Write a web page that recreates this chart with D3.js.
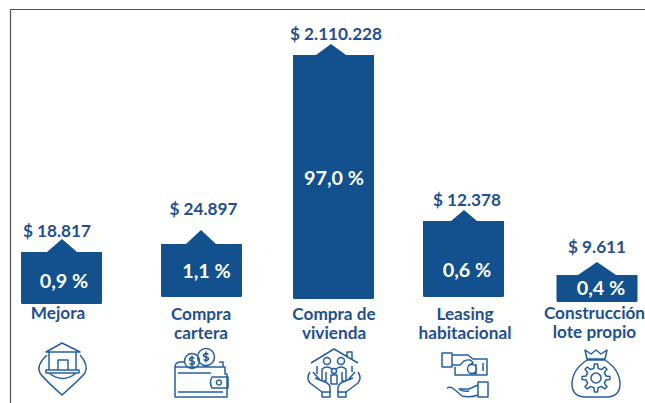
<!DOCTYPE html>
<html><head><meta charset="utf-8">
<script src="https://cdn.jsdelivr.net/npm/d3@7/dist/d3.min.js"></script>
<style>html,body{margin:0;padding:0;background:#fff;overflow:hidden}svg{display:block}text{font-family:Lato,sans-serif;font-weight:700}</style>
</head><body><svg id="c" width="645" height="403"></svg>
<script>
const categories=[["Mejora"],["Compra","cartera"],["Compra de","vivienda"],["Leasing","habitacional"],["Construcción","lote propio"]];
const amounts=["$ 18.817","$ 24.897","$ 2.110.228","$ 12.378","$ 9.611"];
const shares=["0,9 %","1,1 %","97,0 %","0,6 %","0,4 %"];
// Drawn levels of the bars (the picture's bars are not to scale with the amounts)
const barTops=[151,159,348,182,128];
const barBases=[99,106,104,106,101];
const peakRise=[13,14,11,11,13];
const peakHalf=[15,15,15,13,19];
const barCentres=[61.5,201.5,333.5,463.5,597];
const peakCentres=[62,201,331,464,597];
const pctX=[64,206.5,334,467,601], pctY=[288,278,185,277,295];
const amtX=[57,203.5,336,467,597], amtY=[237,215,40,206,253];
const labelX=[58,201,334,465,594.5], labelY=[319,320,320,320,319];
const iconX=[62,201,334,465,596], iconY=[369,376,372,377,376];

const blue="#12508e", txt="#1f4f8f";
const svg=d3.select("#c");
const x=d3.scaleLinear().domain([0,645]).range([0,645]);
const y=d3.scaleLinear().domain([0,403]).range([403,0]);
const barW=81;

svg.append("path").attr("d","M10.5 403V9.5H645").attr("fill","none").attr("stroke","#555").attr("stroke-width",1.2);

const g=svg.selectAll("g.b").data(categories).join("g").attr("class","b");
g.append("path").attr("fill",blue).attr("d",(d,i)=>{
  const l=x(barCentres[i])-barW/2,r=l+barW,t=y(barTops[i]),b=y(barBases[i]),p=x(peakCentres[i]);
  return `M${l} ${t}H${p-peakHalf[i]}L${p} ${t-peakRise[i]}L${p+peakHalf[i]} ${t}H${r}V${b-1.5}Q${r} ${b} ${r-1.5} ${b}H${l+1.5}Q${l} ${b} ${l} ${b-1.5}Z`;
});
g.append("text").attr("x",(d,i)=>amtX[i]).attr("y",(d,i)=>amtY[i])
 .attr("text-anchor","middle").attr("font-size",17.2).attr("fill",txt).text((d,i)=>amounts[i]);
g.append("text").attr("x",(d,i)=>pctX[i]).attr("y",(d,i)=>pctY[i])
 .attr("text-anchor","middle").attr("font-size",19.8).attr("fill","#fff").text((d,i)=>shares[i]);
g.each(function(d,i){
  d.forEach((line,k)=>d3.select(this).append("text").attr("x",labelX[i]).attr("y",labelY[i]+k*19)
   .attr("text-anchor","middle").attr("font-size",17.2).attr("fill",txt).text(line));
});

const circle=(cx,cy,r)=>`M${cx+r} ${cy}A${r} ${r} 0 1 1 ${cx-r} ${cy}A${r} ${r} 0 1 1 ${cx+r} ${cy}Z`;
const dollar=(cx,cy)=>`M${cx+2.5} ${cy-2.5}Q${cx} ${cy-4.5} ${cx-2.5} ${cy-2.5}Q${cx-2.5} ${cy} ${cx} ${cy}Q${cx+2.5} ${cy} ${cx+2.5} ${cy+2.5}Q${cx} ${cy+4.5} ${cx-2.5} ${cy+2.5}M${cx} ${cy-5.5}V${cy+5.5}`;
const gear=(cx,cy,R,r,n)=>{
  const pts=[];
  for(let k=0;k<n;k++){
    const a=k*2*Math.PI/n,w=Math.PI/n*0.5;
    [[r,a-w*1.1],[R,a-w*0.6],[R,a+w*0.6],[r,a+w*1.1]].forEach(([q,t])=>pts.push([cx+q*Math.cos(t),cy+q*Math.sin(t)]));
  }
  return "M"+pts.map(p=>p[0].toFixed(1)+" "+p[1].toFixed(1)).join("L")+"Z";
};
const icons=[
 "M-16 -17L0 -26L18 -17ZM-13 -17V1M14 -17V1M-4 1V-9H6V1M-16 1H17V4H-16ZM-13 4Q1 15 14 4M-15 -14Q-26 -4 -22 4Q-18 10 0 26Q18 10 23 4Q27 -4 18 -14",
 "M-26 -9H24V-2H26V21H-26ZM-26 -9Q-26 -14 -20 -14H-16M18 -14H22V-9M-23 -3H10M-23 16H22M11 1H27V12H11Q8 6.5 11 1Z"+circle(18,6.5,2.5)+circle(-9,-15,7.5)+dollar(-9,-15)+circle(5,-19,8.5)+dollar(5,-19),
 "M-23 -9L0 -23L24 -9M13 -15V-20H18V-12M-17 -6V2M18 -6V0"+circle(-7,-11,3.5)+circle(7,-11,3.5)+circle(0,-1,2.5)+"M-12 9V-3Q-7 -7 -2 -3M2 -3Q7 -7 12 -3V9M-12 9H-8V0M12 9H8V0M-3 12V3H3V12Z"+"M-24 0Q-28 6 -24 11L-12 20V25H-4V16Q-4 12 -9 10L-19 6M-21 0L-14 8M24 0Q28 6 24 11L12 20V25H4V16Q4 12 9 10L19 6M21 0L14 8M-13 20H-3M13 20H3",
 "M-23 -24H-13V-10H-23ZM-13 -22H3L8 -18H22V-2H-10V-10M-13 -12H-5L-1 -16Q6 -19 8 -14L3 -11M11 -2V-13M18 -14V-6"+circle(7,-8,4.5)+"M13 5H23V20H13ZM13 8L4 12H-6Q-3 15 4 14M-18 11Q-14 9 -10 13L-3 19Q5 21 13 18",
 "M-11 -26L-5 -22L0 -26L5 -22L11 -26L9 -17H-9ZM-9 -16H9M-9 -16Q-24 -6 -24 8Q-24 21 -10 21H10Q24 21 24 8Q24 -6 9 -16"+gear(0,2,14,10,8)+circle(0,2,5)
];
svg.selectAll("path.i").data(icons).join("path").attr("class","i")
 .attr("transform",(d,i)=>`translate(${iconX[i]},${iconY[i]})`)
 .attr("d",d=>d).attr("fill","none").attr("stroke","#24609f").attr("stroke-width",1.5).attr("stroke-linejoin","round");
</script></body></html>
